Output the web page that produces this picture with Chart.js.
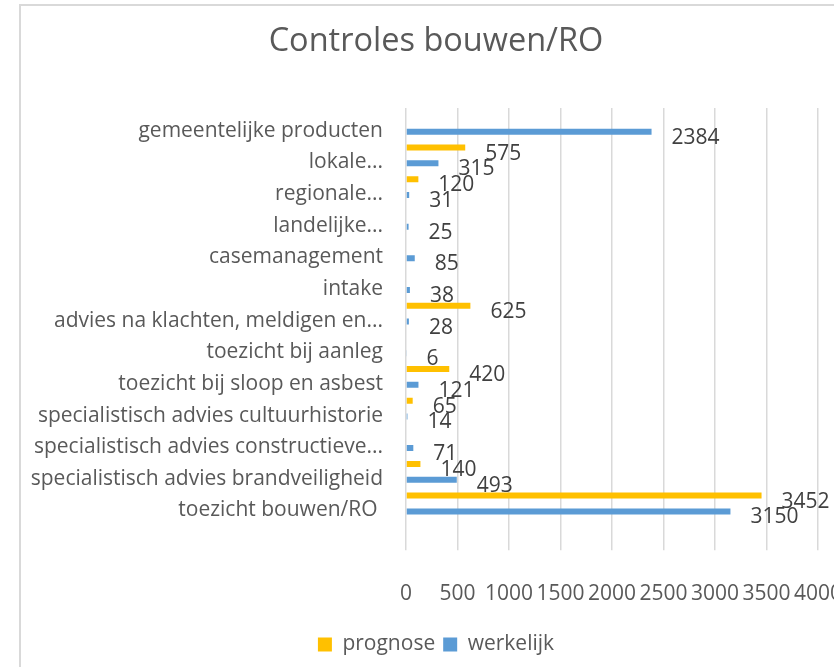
<!DOCTYPE html>
<html>
<head>
<meta charset="utf-8">
<script src="https://cdn.jsdelivr.net/npm/chart.js@4"></script>
<style>
  html, body { margin: 0; padding: 0; background: #fff; overflow: hidden; }
  #frame { position: absolute; left: 19px; top: 4px; width: 900px; height: 700px; border: 2px solid #d9d9d9; }
  #wrap { position: absolute; left: 0; top: 0; width: 834px; height: 667px; }
</style>
</head>
<body>
<div id="frame"></div>
<div id="wrap"><canvas id="chart" width="834" height="667"></canvas></div>
<script>
// chart data
const categories = [
    'gemeentelijke producten',
    'lokale...',
    'regionale...',
    'landelijke...',
    'casemanagement',
    'intake',
    'advies na klachten, meldigen en...',
    'toezicht bij aanleg',
    'toezicht bij sloop en asbest',
    'specialistisch advies cultuurhistorie',
    'specialistisch advies constructieve...',
    'specialistisch advies brandveiligheid',
    'toezicht bouwen/RO '
];
const prognose = [null, 575, 120, null, null, null, 625, null, 420, 65, null, 140, 3452];
const werkelijk = [2384, 315, 31, 25, 85, 38, 28, 6, 121, 14, 71, 493, 3150];
const xMin = 0;
const xMax = 4000;
const xStep = 500;

const FONT = '"Open Sans", Lato, sans-serif';

// value labels next to the bar ends
const valueLabels = {
    id: 'valueLabels',
    afterDatasetsDraw(chart) {
        const ctx = chart.ctx;
        ctx.save();
        ctx.font = '21px ' + FONT;
        ctx.fillStyle = '#404040';
        ctx.textAlign = 'left';
        ctx.textBaseline = 'middle';
        chart.data.datasets.forEach((ds, i) => {
            const meta = chart.getDatasetMeta(i);
            meta.data.forEach((bar, j) => {
                const v = ds.data[j];
                if (v === null || v === undefined) return;
                ctx.fillText(String(v), bar.x + 20, bar.y + 6);
            });
        });
        ctx.restore();
    }
};

// title and legend are centred over the framed area, not the whole canvas
const shiftBlocks = {
    id: 'shiftBlocks',
    afterLayout(chart) {
        if (chart.titleBlock) chart.titleBlock.left = 54;
        if (chart.legend) chart.legend.left = 54;
    }
};

new Chart(document.getElementById('chart'), {
    type: 'bar',
    data: {
        labels: categories,
        datasets: [
            { label: 'prognose', data: prognose, backgroundColor: '#FFC000' },
            { label: 'werkelijk', data: werkelijk, backgroundColor: '#5B9BD5' }
        ]
    },
    options: {
        indexAxis: 'y',
        responsive: false,
        animation: false,
        categoryPercentage: 1.0,
        barPercentage: 0.38,
        layout: { padding: { left: 0, right: 16, top: 0, bottom: 2 } },
        plugins: {
            title: {
                display: true,
                text: 'Controles bouwen/RO',
                color: '#595959',
                font: { family: FONT, size: 32.5, weight: 'normal' },
                padding: { top: 22, bottom: 47 }
            },
            legend: {
                position: 'bottom',
                labels: {
                    color: '#595959',
                    font: { family: FONT, size: 21 },
                    boxWidth: 14,
                    boxHeight: 14,
                    padding: 8
                }
            },
            tooltip: { enabled: false }
        },
        scales: {
            x: {
                min: xMin,
                max: xMax,
                ticks: {
                    stepSize: xStep,
                    autoSkip: false,
                    color: '#595959',
                    font: { family: FONT, size: 21 },
                    padding: 31,
                    maxRotation: 0,
                    callback: v => String(v)
                },
                grid: { color: '#d9d9d9', lineWidth: 1.5, tickLength: 31 },
                border: { display: false },
                afterFit(scale) {
                    scale.paddingLeft = 0;
                    scale.paddingRight = 0;
                    scale.height -= 11.5;
                }
            },
            y: {
                ticks: {
                    color: '#595959',
                    font: { family: FONT, size: 21 },
                    padding: 23,
                    labelOffset: 7,
                    autoSkip: false
                },
                grid: { display: false, drawTicks: false },
                border: { display: false },
                afterFit(scale) {
                    scale.width = 406;
                }
            }
        }
    },
    plugins: [valueLabels, shiftBlocks]
});
</script>
</body>
</html>
